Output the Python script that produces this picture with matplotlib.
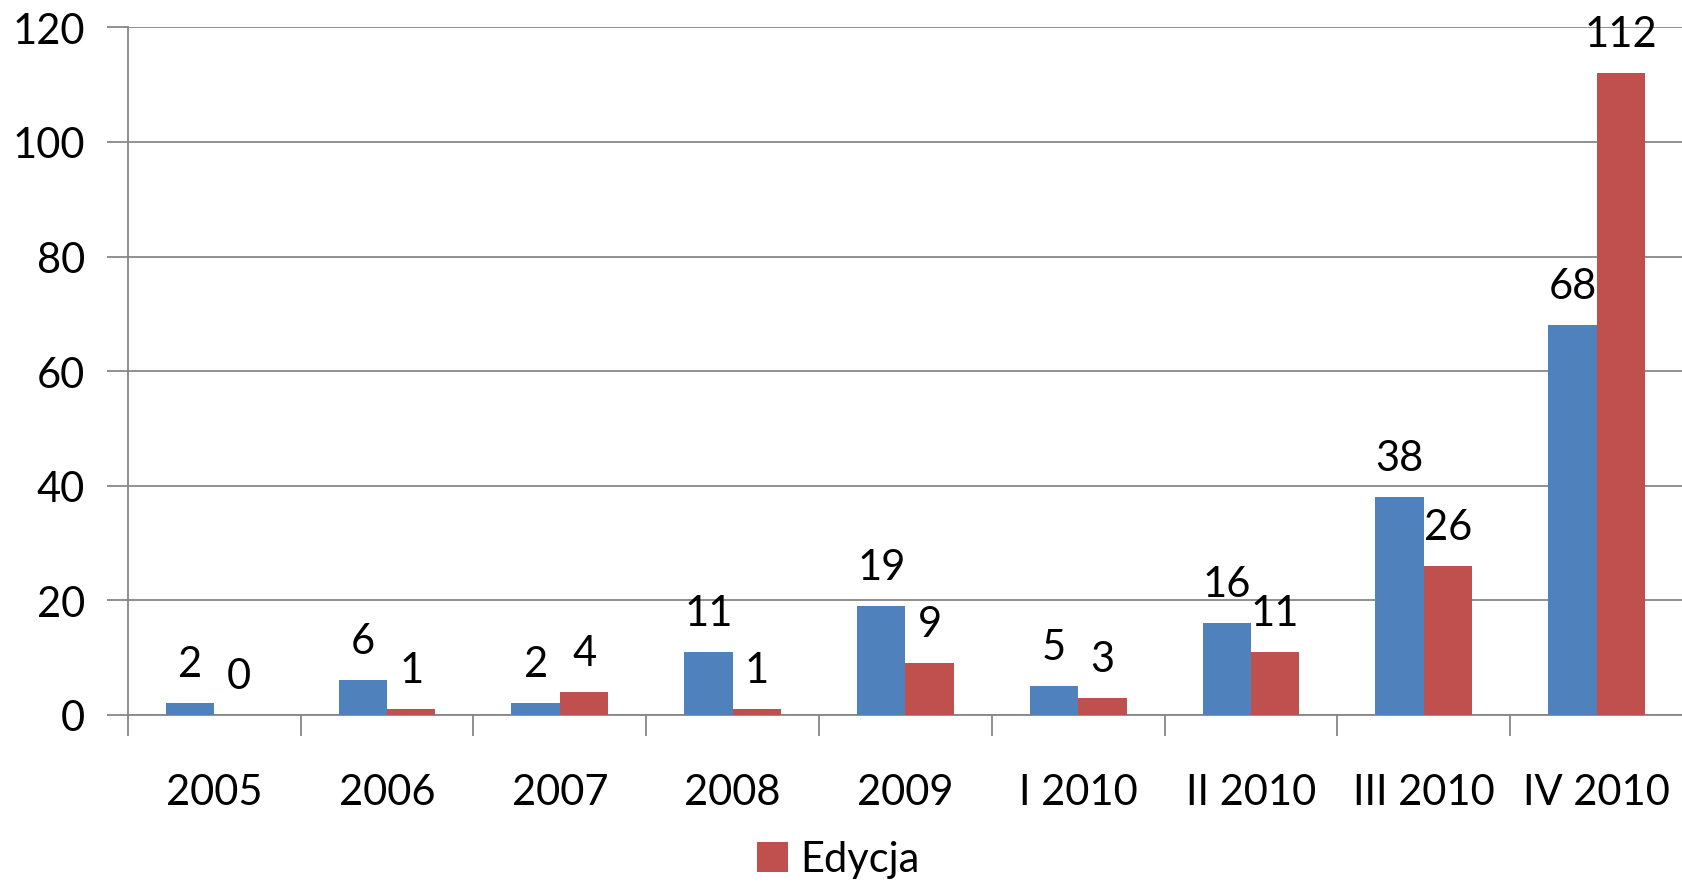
import matplotlib
matplotlib.use("Agg")
import matplotlib.pyplot as plt
import numpy as np

categories = ['2005', '2006', '2007', '2008', '2009', 'I 2010', 'II 2010', 'III 2010', 'IV 2010']
blue_values = [2, 6, 2, 11, 19, 5, 16, 38, 68]
edycja_values = [0, 1, 4, 1, 9, 3, 11, 26, 112]

plt.rcParams['font.family'] = ['Lato', 'DejaVu Sans']

fig = plt.figure(figsize=(16.83, 8.87), dpi=100)
ax = fig.add_axes([0.076, 0.193, 0.924, 0.775])

x = np.arange(len(categories))
w = 0.28
b1 = ax.bar(x - w / 2, blue_values, w, color='#4F81BD', zorder=3)
b2 = ax.bar(x + w / 2, edycja_values, w, color='#C0504D', label='Edycja', zorder=3)

for rects, vals in ((b1, blue_values), (b2, edycja_values)):
    for r, v in zip(rects, vals):
        ax.text(r.get_x() + r.get_width() / 2, v + 3.5, str(v),
                ha='center', va='bottom', fontsize=30, zorder=4)

ax.set_xlim(-0.5, len(categories) - 0.5)
ax.set_ylim(0, 120)
ax.set_yticks(range(0, 121, 20))
ax.yaxis.grid(True, color='#878787', linewidth=1.3)
ax.set_axisbelow(True)

ax.set_xticks(x)
ax.set_xticklabels(categories, fontsize=30)
ax.set_xticks(np.arange(-0.5, len(categories)), minor=True)
ax.tick_params(axis='x', which='major', length=0, pad=42)
ax.tick_params(axis='x', which='minor', length=15, color='#878787', width=1.3)
ax.tick_params(axis='y', length=15, color='#878787', width=1.3, labelsize=30, pad=16)

for s in ('top', 'right'):
    ax.spines[s].set_visible(False)
for s in ('left', 'bottom'):
    ax.spines[s].set_color('#878787')
    ax.spines[s].set_linewidth(1.3)

fig.legend(handles=[b2], labels=['Edycja'], loc='center', bbox_to_anchor=(0.498, 0.03),
           frameon=False, fontsize=30, handlelength=0.75, handleheight=0.75, handletextpad=0.3,
           borderpad=0)

fig.savefig('out.png', dpi=100)
